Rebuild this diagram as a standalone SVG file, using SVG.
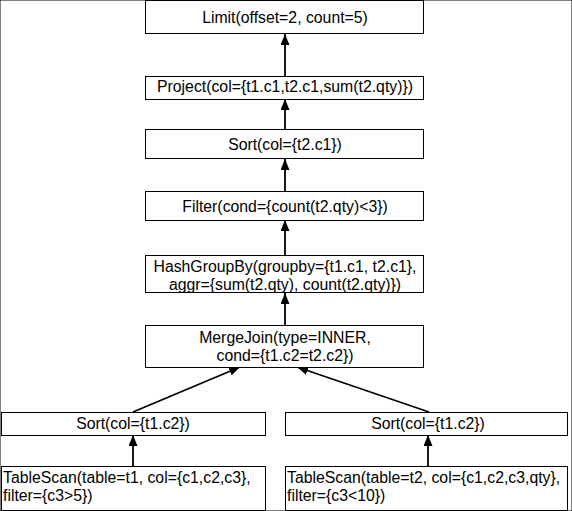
<svg xmlns="http://www.w3.org/2000/svg" width="572" height="511" viewBox="0 0 572 511">
<style>
rect{fill:#fff;stroke:#000;stroke-width:1}
text{font-family:"Liberation Sans",Arial,sans-serif;font-size:15.8px;fill:#000}
.c{text-anchor:middle}
.e line{stroke:#000;stroke-width:1.8}
</style>
<defs>
<marker id="ah" viewBox="0 0 11 9" refX="11" refY="4.5" markerWidth="11" markerHeight="9" orient="auto" markerUnits="userSpaceOnUse">
<path d="M0,0L11,4.5L0,9z" fill="#000"/>
</marker>
</defs>
<rect width="572" height="511" fill="#fff" stroke="none"/>
<g class="e">
<line x1="285" y1="76" x2="285" y2="34" marker-end="url(#ah)"/>
<line x1="285" y1="129" x2="285" y2="99" marker-end="url(#ah)"/>
<line x1="285" y1="191" x2="285" y2="159" marker-end="url(#ah)"/>
<line x1="285" y1="255" x2="285" y2="220" marker-end="url(#ah)"/>
<line x1="285" y1="325" x2="285" y2="293" marker-end="url(#ah)"/>
<line x1="133" y1="412" x2="240" y2="367" marker-end="url(#ah)"/>
<line x1="429" y1="412" x2="297" y2="367" marker-end="url(#ah)"/>
<line x1="133" y1="466" x2="133" y2="435" marker-end="url(#ah)"/>
<line x1="428" y1="466" x2="428" y2="435" marker-end="url(#ah)"/>
</g>
<g id="limit"><rect x="145.5" y="0.5" width="278" height="33"/><text class="c" x="285" y="23">Limit(offset=2, count=5)</text></g>
<g id="project"><rect x="145.5" y="76.5" width="278" height="23"/><text class="c" x="285" y="92">Project(col={t1.c1,t2.c1,sum(t2.qty)})</text></g>
<g id="sort"><rect x="145.5" y="129.5" width="278" height="29"/><text class="c" x="285" y="150">Sort(col={t2.c1})</text></g>
<g id="filter"><rect x="145.5" y="191.5" width="278" height="29"/><text class="c" x="285" y="212">Filter(cond={count(t2.qty)&lt;3})</text></g>
<g id="hashgroupby"><rect x="145.5" y="255.5" width="278" height="37"/><text class="c" x="285" y="272">HashGroupBy(groupby={t1.c1, t2.c1},</text><text class="c" x="285" y="290">aggr={sum(t2.qty), count(t2.qty)})</text></g>
<g id="mergejoin"><rect x="145.5" y="325.5" width="278" height="42"/><text class="c" x="285" y="343">MergeJoin(type=INNER,</text><text class="c" x="285" y="361">cond={t1.c2=t2.c2})</text></g>
<g id="sort_left"><rect x="1.5" y="412.5" width="264" height="23"/><text class="c" x="133" y="429">Sort(col={t1.c2})</text></g>
<g id="sort_right"><rect x="285.5" y="412.5" width="282" height="23"/><text class="c" x="428" y="429">Sort(col={t1.c2})</text></g>
<g id="scan_left"><rect x="1.5" y="466.5" width="264" height="44"/><text x="3" y="483">TableScan(table=t1, col={c1,c2,c3},</text><text x="3" y="501">filter={c3&gt;5})</text></g>
<g id="scan_right"><rect x="285.5" y="466.5" width="282" height="44"/><text x="287" y="483">TableScan(table=t2, col={c1,c2,c3,qty},</text><text x="287" y="501">filter={c3&lt;10})</text></g>
</svg>
